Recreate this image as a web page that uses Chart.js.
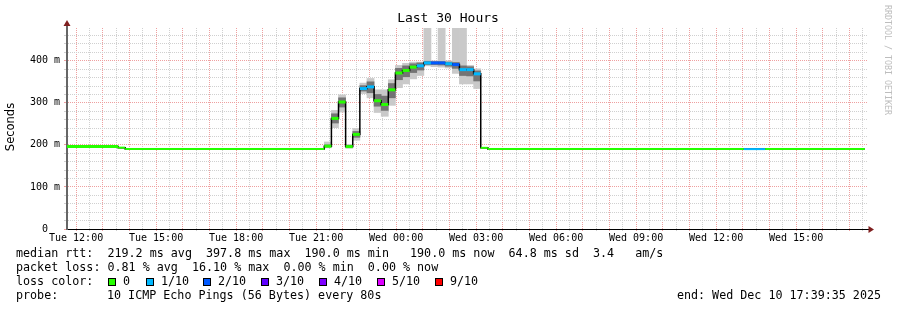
<!DOCTYPE html>
<html>
<head>
<meta charset="utf-8">
<script src="https://cdn.jsdelivr.net/npm/chart.js@4.4.1/dist/chart.umd.min.js"></script>
<style>
  html, body { margin: 0; padding: 0; background: #fff; }
</style>
</head>
<body>
<canvas id="myChart" width="897" height="310"></canvas>
<script>
// 16 min RRA buckets, each entry = start of a step, value held until the next one
const stepTimes = [
  'Tue 11:26:30', 'Tue 13:34:30', 'Tue 13:50:30',
  'Tue 21:18:30', 'Tue 21:34:30', 'Tue 21:50:30', 'Tue 22:06:30', 'Tue 22:22:30',
  'Tue 22:38:30', 'Tue 22:54:30', 'Tue 23:10:30', 'Tue 23:26:30', 'Tue 23:42:30',
  'Tue 23:58:30', 'Wed 00:14:30', 'Wed 00:30:30', 'Wed 00:46:30', 'Wed 01:02:30',
  'Wed 01:18:30', 'Wed 01:34:30', 'Wed 01:50:30', 'Wed 02:06:30', 'Wed 02:22:30',
  'Wed 02:38:30', 'Wed 02:54:30', 'Wed 03:10:30', 'Wed 03:26:30',
  'Wed 13:02:30', 'Wed 13:50:30'
];
const endTime = 'Wed 17:34:30';

// median rtt in ms
const medianMs = [
  196, 193.5, 190,
  197, 263, 302, 196, 225,
  334, 338, 305, 296, 331,
  371, 377, 385, 388, 395,
  395, 395, 393, 391, 379,
  379, 369, 193, 190,
  190, 190
];
// index into lossLabels / lossColors
const lossIdx = [
  0, 0, 0,
  0, 0, 0, 0, 0,
  1, 1, 0, 0, 0,
  0, 0, 0, 1, 1,
  2, 2, 1, 2, 1,
  1, 1, 0, 0,
  1, 0
];
// smoke: full spread of the pings and the dense core around the median
const smokeMin = [
  null, null, null,
  193, 241, 278, 192, 211,
  322, 312, 277, 268, 294,
  336, 345, 357, 365, 388,
  386, 385, 383, 370, 345,
  345, 334, null, null,
  null, null
];
const smokeMax = [
  null, null, null,
  207, 282, 319, 201, 239,
  347, 358, 331, 331, 355,
  389, 394, 397, 397, 490,
  400, 490, 400, 490, 490,
  389, 381, null, null,
  null, null
];
const smokeLo = [
  null, null, null,
  195, 252, 290, 194, 218,
  328, 324, 292, 282, 312,
  355, 362, 372, 378, 391,
  391, 390, 387, 382, 365,
  364, 352, null, null,
  null, null
];
const smokeHi = [
  null, null, null,
  200, 274, 312, 199, 232,
  341, 350, 320, 316, 346,
  382, 388, 393, 395, 399,
  398, 398, 397, 396, 388,
  386, 376, null, null,
  null, null
];

const graphStart = 'Tue 11:39:35';
const graphEnd = 'Wed 17:39:35';
const xTickLabels = ['Tue 12:00', 'Tue 15:00', 'Tue 18:00', 'Tue 21:00', 'Wed 00:00',
                     'Wed 03:00', 'Wed 06:00', 'Wed 09:00', 'Wed 12:00', 'Wed 15:00'];
const yTickValues = [0, 100, 200, 300, 400];
const yTickLabels = ['0  ', '100 m', '200 m', '300 m', '400 m'];
const lossLabels = ['0', '1/10', '2/10', '3/10', '4/10', '5/10', '9/10'];
const lossColors = ['#26ff00', '#00b8ff', '#0059ff', '#5e00ff', '#7e00ff', '#dd00ff', '#ff0000'];

const statLines = [
  'median rtt:  219.2 ms avg  397.8 ms max  190.0 ms min   190.0 ms now  64.8 ms sd  3.4   am/s',
  'packet loss: 0.81 % avg  16.10 % max  0.00 % min  0.00 % now'
];

function toMin(s) {
  const [d, t] = s.split(' ');
  const [h, m, sec] = t.split(':').map(Number);
  return (d === 'Wed' ? 1440 : 0) + h * 60 + m + (sec || 0) / 60;
}

const starts = stepTimes.map(toMin);
const ends = starts.slice(1).concat(toMin(endTime));

// coloured median marks, one piece per step
const medPts = [];
const medLoss = [];
starts.forEach((s, i) => {
  medPts.push({x: s, y: medianMs[i]}, {x: ends[i], y: medianMs[i]}, {x: ends[i], y: null});
  medLoss.push(lossIdx[i], lossIdx[i], lossIdx[i]);
});
// black step line joining the medians
const stepPts = starts.map((s, i) => ({x: s, y: medianMs[i]}));
stepPts.push({x: ends[ends.length - 1], y: medianMs[medianMs.length - 1]});

const outerSmoke = starts.map((s, i) => ({x: (s + ends[i]) / 2, y: smokeMin[i] == null ? null : [smokeMin[i], smokeMax[i]]}));
const innerSmoke = starts.map((s, i) => ({x: (s + ends[i]) / 2, y: smokeLo[i] == null ? null : [smokeLo[i], smokeHi[i]]}));

const xStart = toMin(graphStart);
const xEnd = toMin(graphEnd);
const gridTicks = [];
for (let v = 720; v < xEnd; v += 30) gridTicks.push(v);

const MAJOR = '#eea0a0';
const MINOR = '#d0d0d0';
const MONO = '"DejaVu Sans Mono"';

const deco = {
  id: 'deco',
  afterDraw(chart) {
    const ctx = chart.ctx;
    const {left, top, right, bottom} = chart.chartArea;
    ctx.save();
    // axis stubs + arrows
    ctx.strokeStyle = '#666';
    ctx.lineWidth = 2;
    ctx.beginPath(); ctx.moveTo(left, top + 1); ctx.lineTo(left, 24); ctx.stroke();
    ctx.strokeStyle = '#000';
    ctx.lineWidth = 1;
    ctx.beginPath(); ctx.moveTo(right - 1, bottom + 0.5); ctx.lineTo(right + 3, bottom + 0.5); ctx.stroke();
    ctx.fillStyle = '#7f1f1f';
    ctx.beginPath(); ctx.moveTo(left, 20); ctx.lineTo(left - 3.5, 26); ctx.lineTo(left + 3.5, 26); ctx.closePath(); ctx.fill();
    ctx.beginPath(); ctx.moveTo(right + 7, bottom + 0.5); ctx.lineTo(right + 1.5, bottom - 3); ctx.lineTo(right + 1.5, bottom + 4); ctx.closePath(); ctx.fill();

    ctx.fillStyle = '#000';
    ctx.textBaseline = 'middle';
    ctx.textAlign = 'center';
    ctx.font = '13px ' + MONO;
    ctx.fillText('Last 30 Hours', 448, 19);

    ctx.save();
    ctx.translate(11, 127);
    ctx.rotate(-Math.PI / 2);
    ctx.font = '11.5px "DejaVu Sans"';
    ctx.fillText('Seconds', 0, 0);
    ctx.restore();

    ctx.save();
    ctx.translate(887, 5);
    ctx.rotate(Math.PI / 2);
    ctx.textAlign = 'left';
    ctx.fillStyle = '#bdbdbd';
    ctx.font = '8.3px ' + MONO;
    ctx.fillText('RRDTOOL / TOBI OETIKER', 0, 0);
    ctx.restore();

    ctx.textAlign = 'left';
    ctx.font = '11.7px ' + MONO;
    statLines.forEach((t, r) => ctx.fillText(t, 16, 254 + r * 14));
    ctx.fillText('loss color:', 16, 282);
    const boxX = [108, 146, 203, 261, 319, 377, 435];
    lossLabels.forEach((lab, i) => {
      ctx.fillStyle = lossColors[i];
      ctx.fillRect(boxX[i], 278, 8, 8);
      ctx.strokeStyle = '#000';
      ctx.lineWidth = 1;
      ctx.strokeRect(boxX[i] + 0.5, 278.5, 7, 7);
      ctx.fillStyle = '#000';
      ctx.fillText(lab, boxX[i] + 15, 282);
    });
    ctx.fillText('probe:', 16, 296);
    ctx.fillText('10 ICMP Echo Pings (56 Bytes) every 80s', 107, 296);
    ctx.textAlign = 'right';
    ctx.fillText('end: Wed Dec 10 17:39:35 2025', 881, 296);
    ctx.restore();
  }
};

const barOpts = {type: 'bar', grouped: false, barPercentage: 1, categoryPercentage: 1, borderWidth: 0};

new Chart(document.getElementById('myChart'), {
  type: 'line',
  data: {
    datasets: [
      {
        data: medPts, order: 0, pointRadius: 0, spanGaps: false, borderWidth: 3,
        borderColor: lossColors[0],
        segment: {
          borderColor: c => lossColors[medLoss[c.p0DataIndex]],
          borderWidth: c => (medPts[c.p0DataIndex].y > 194 ? 3 : 2)
        }
      },
      {data: stepPts, order: 1, stepped: 'before', pointRadius: 0, borderColor: '#000', borderWidth: 1.5},
      Object.assign({data: innerSmoke, order: 2, backgroundColor: '#747474'}, barOpts),
      Object.assign({data: outerSmoke, order: 3, backgroundColor: '#c9c9c9'}, barOpts)
    ]
  },
  options: {
    responsive: false,
    animation: false,
    devicePixelRatio: 1,
    layout: {padding: {left: 0, top: 28, right: 30, bottom: 0}},
    plugins: {legend: {display: false}, tooltip: {enabled: false}},
    scales: {
      x: {
        type: 'linear', min: xStart, max: xEnd, offset: false,
        afterBuildTicks: s => { s.ticks = gridTicks.map(v => ({value: v})); },
        afterFit: s => { s.height = 81; },
        ticks: {
          autoSkip: false, maxRotation: 0, padding: 1, color: '#000',
          font: {family: MONO, size: 10},
          callback: v => {
            const i = xTickLabels.findIndex(l => Math.abs(toMin(l) - v) < 0.01);
            return i < 0 ? '' : xTickLabels[i];
          }
        },
        grid: {
          offset: false, lineWidth: 1, tickLength: 2,
          color: c => (c.tick.value % 60 === 0 ? MAJOR : MINOR),
          tickColor: c => (c.tick.value % 60 === 0 ? MAJOR : MINOR)
        },
        border: {color: '#000', width: 1, dash: [1, 1]}
      },
      y: {
        min: 0, max: 478,
        afterBuildTicks: s => {
          const t = [];
          for (let v = 0; v <= 460; v += 20) t.push({value: v});
          s.ticks = t;
        },
        afterFit: s => { s.width = 67; },
        ticks: {
          autoSkip: false, padding: 4, color: '#000', font: {family: MONO, size: 10},
          callback: v => {
            const i = yTickValues.indexOf(v);
            return i < 0 ? '' : yTickLabels[i];
          }
        },
        grid: {
          lineWidth: 1, tickLength: 3,
          color: c => (c.tick.value % 100 === 0 ? MAJOR : MINOR),
          tickColor: c => (c.tick.value % 100 === 0 ? MAJOR : MINOR)
        },
        border: {color: '#666', width: 2, dash: [1, 1]}
      }
    }
  },
  plugins: [deco]
});
</script>
</body>
</html>
